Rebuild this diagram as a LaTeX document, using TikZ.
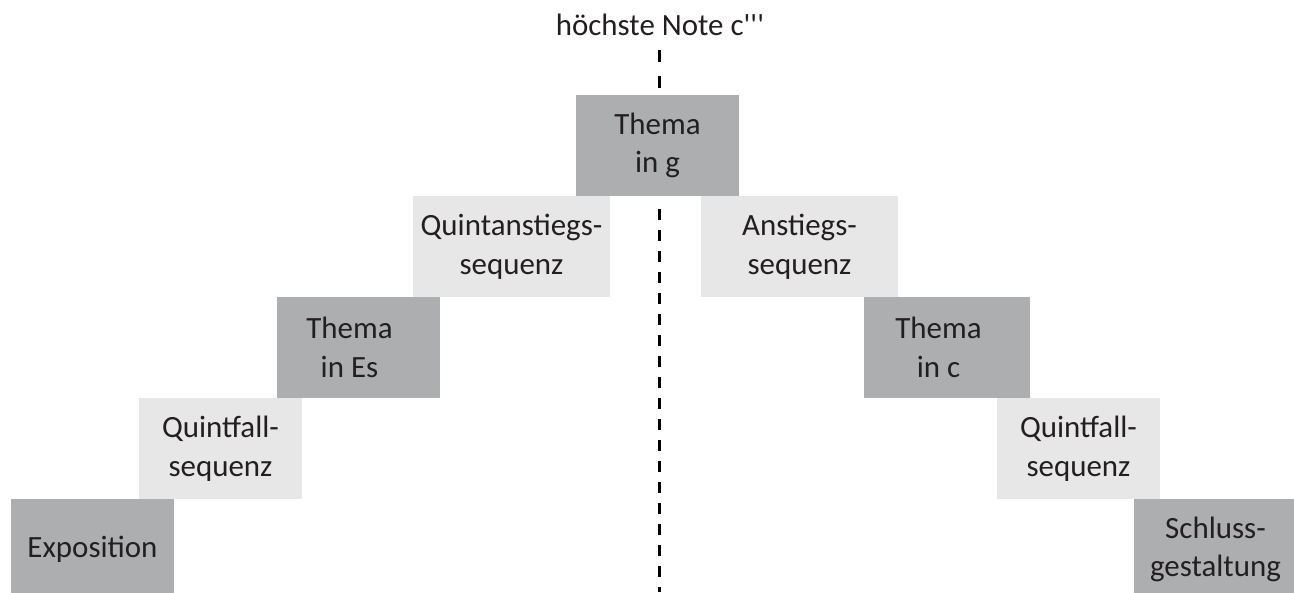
\documentclass[tikz,border=0pt]{standalone}
\usepackage{fontspec}
\setmainfont{Carlito}
\newfontfamily\plainfont{Carlito}
\definecolor{darkgrey}{HTML}{ADAEB0}
\definecolor{lightgrey}{HTML}{E7E7E7}
\definecolor{ink}{HTML}{231F20}
\begin{document}
\begin{tikzpicture}[inner sep=0pt,outer sep=0pt,
font=\fontsize{22pt}{27.5pt}\selectfont,text=ink,
darkblock/.style={rectangle,fill=darkgrey,align=center,minimum width=4.075cm,minimum height=2.525cm},
lightblock/.style={rectangle,fill=lightgrey,align=center,minimum width=4.075cm,minimum height=2.525cm},
wideblock/.style={lightblock,minimum width=4.925cm},
peakline/.style={line width=2.1pt,dash pattern=on 0.3cm off 0.35cm}]

\path[use as bounding box,clip] (0,0) rectangle (32.35,14.8);

% peak marker
\draw (16.5,13.9) node[anchor=base] (peak) {\plainfont höchste Note c'''};
\coordinate (top) at (16.4875,13.55);
\coordinate (bot) at (16.4875,0);

% dashed centre line, behind the blocks
\draw (16.4375,11.1625) node[darkblock] (themaG) {Thema\\in g};
\draw[peakline] (top) -- (top |- themaG.north);
\draw[peakline,dash pattern=on 0.275cm off 0.25cm] (top |- themaG.south) ++(0,-0.325) -- (bot);

% ascending side
\draw (2.3125,1.0625) node[darkblock] (expo) {Exposition};
\draw (5.5125,3.5875) node[lightblock] (fallL) {Quintfall-\\sequenz};
\draw (8.9625,6.1125) node[darkblock] (themaEs) {Thema\hspace*{0.45cm}\\in Es\hspace*{0.45cm}};
\draw (12.7875,8.6375) node[wideblock] (anstiegL) {Quintanstiegs-\\sequenz};

% descending side
\draw (19.9875,8.6375) node[wideblock] (anstiegR) {Anstiegs-\\sequenz};
\draw (23.6625,6.1125) node[darkblock,minimum width=4.15cm] (themaC) {Thema\hspace*{0.4cm}\\in c\hspace*{0.4cm}};
\draw (26.9625,3.5875) node[lightblock] (fallR) {Quintfall-\\sequenz};
\draw (30.3875,1.0625) node[darkblock] (schluss) {Schluss-\\gestaltung};

\end{tikzpicture}
\end{document}
